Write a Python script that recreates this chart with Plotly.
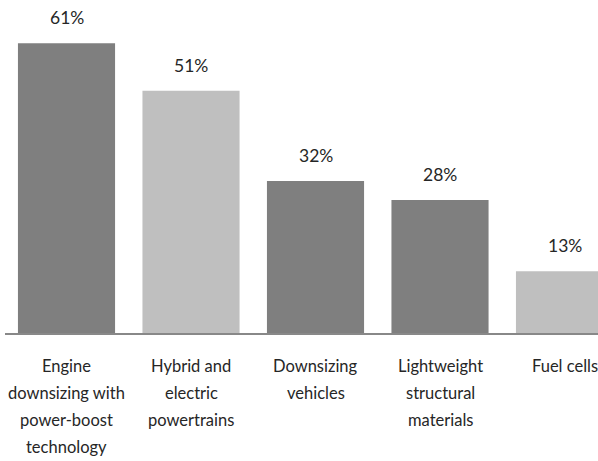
import plotly.graph_objects as go

categories = [
    "Engine downsizing with power-boost technology",
    "Hybrid and electric powertrains",
    "Downsizing vehicles",
    "Lightweight structural materials",
    "Fuel cells",
]
label_lines = [
    ["Engine", "downsizing with", "power-boost", "technology"],
    ["Hybrid and", "electric", "powertrains"],
    ["Downsizing", "vehicles"],
    ["Lightweight", "structural", "materials"],
    ["Fuel cells"],
]
values = [61, 51, 32, 28, 13]
bar_colors = ["#7f7f7f", "#bfbfbf", "#7f7f7f", "#7f7f7f", "#bfbfbf"]

FONT = "Lato, Open Sans, sans-serif"
TXT = "#262626"

fig = go.Figure(
    go.Bar(
        x=categories,
        y=values,
        marker=dict(color=bar_colors, line=dict(width=0)),
        width=0.78,
        hoverinfo="skip",
    )
)

for c, v in zip(categories, values):
    fig.add_annotation(
        x=c, y=v, text=f"{v}%", showarrow=False,
        yanchor="bottom", yshift=13,
        font=dict(family=FONT, size=17.5, color=TXT),
    )

for c, lines in zip(categories, label_lines):
    for i, line in enumerate(lines):
        fig.add_annotation(
            x=c, y=0, text=line, showarrow=False,
            yanchor="middle", yshift=-33 - 27 * i,
            font=dict(family=FONT, size=16.5, color=TXT),
        )

fig.update_layout(
    width=598, height=461,
    margin=dict(l=5, r=0, t=0, b=128),
    paper_bgcolor="white", plot_bgcolor="white",
    showlegend=False,
    xaxis=dict(
        type="category",
        range=[-0.494, 4.269],
        showline=True, linecolor="#888888", linewidth=1.5,
        showgrid=False, ticks="", showticklabels=False,
    ),
    yaxis=dict(
        range=[0, 70.1], visible=False, showgrid=False, zeroline=False,
    ),
)

fig.write_html("out.html")
